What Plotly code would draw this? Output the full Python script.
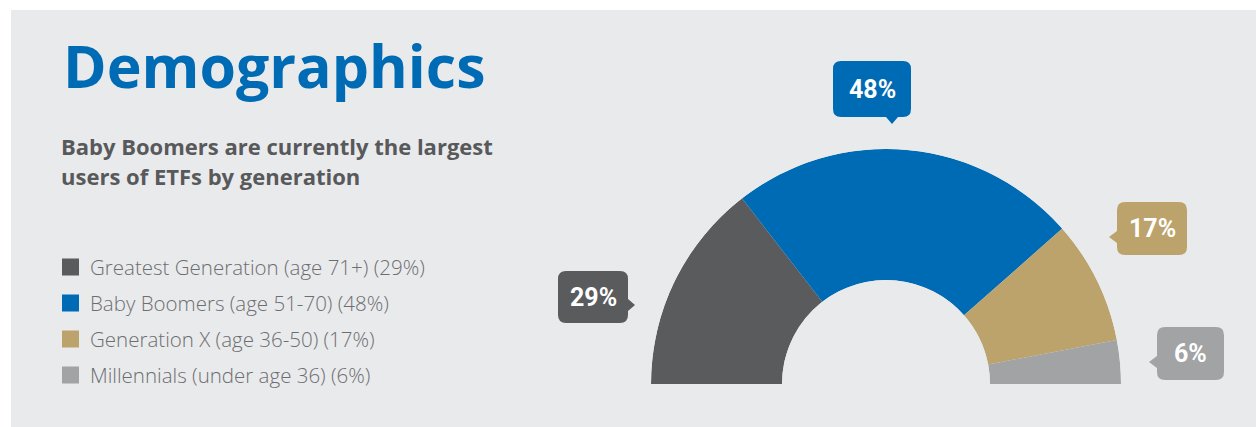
import plotly.graph_objects as go

# Share of ETF users by generation (percent)
generations = [
    "Greatest Generation (age 71+)",
    "Baby Boomers (age 51-70)",
    "Generation X (age 36-50)",
    "Millennials (under age 36)",
]
shares = [29, 48, 17, 6]
colors = ["#5a5b5d", "#006bb5", "#bca36c", "#a2a3a5"]

TITLE = "Demographics"
SUBTITLE = ["Baby Boomers are currently the largest", "users of ETFs by generation"]

W, H = 1256, 427
PANEL = "#e9eaec"

# callout box geometry in pixels: (x0, y0, x1, y1, pointer side, tip x, tip y)
callout_boxes = [
    (558, 271, 628, 323, "right", 635, 305),
    (833, 61, 911, 117, "bottom", 892, 124),
    (1117, 202, 1187, 255, "left", 1109, 237),
    (1157, 327, 1224, 380, "left", 1149, 362),
]


def px(x):
    return x / W


def py(y):
    return 1 - y / H


def callout_path(x0, y0, x1, y1, side, tx, ty, r=8, hw=6):
    pts = []
    pts.append(("M", (x0 + r, y0)))
    pts.append(("L", (x1 - r, y0)))
    pts.append(("Q", (x1, y0), (x1, y0 + r)))
    if side == "right":
        pts += [("L", (x1, ty - hw)), ("L", (tx, ty)), ("L", (x1, ty + hw))]
    pts.append(("L", (x1, y1 - r)))
    pts.append(("Q", (x1, y1), (x1 - r, y1)))
    if side == "bottom":
        pts += [("L", (tx + hw, y1)), ("L", (tx, ty)), ("L", (tx - hw, y1))]
    pts.append(("L", (x0 + r, y1)))
    pts.append(("Q", (x0, y1), (x0, y1 - r)))
    if side == "left":
        pts += [("L", (x0, ty + hw)), ("L", (tx, ty)), ("L", (x0, ty - hw))]
    pts.append(("L", (x0, y0 + r)))
    pts.append(("Q", (x0, y0), (x0 + r, y0)))
    out = []
    for p in pts:
        cmd, coords = p[0], p[1:]
        out.append(cmd + " ".join(f"{px(a):.6f},{py(b):.6f}" for a, b in coords))
    return " ".join(out) + " Z"


# half donut: shares laid out over 180 degrees, left to right
total = sum(shares)
deg = [s / total * 180 for s in shares]
mids, acc = [], 0.0
for d in deg:
    mids.append(acc + d / 2)
    acc += d

fig = go.Figure()
fig.add_trace(
    go.Barpolar(
        r=[1] * len(shares),
        theta=mids,
        width=deg,
        marker=dict(color=colors, line=dict(width=0)),
        showlegend=False,
        hoverinfo="skip",
    )
)

shapes = [
    dict(type="rect", xref="paper", yref="paper", x0=px(11), x1=1, y0=0, y1=py(10),
         fillcolor=PANEL, line=dict(width=0), layer="below")
]
annotations = []

annotations.append(dict(
    text=f"<b>{TITLE}</b>", x=px(61), y=py(65), xref="paper", yref="paper",
    xanchor="left", yanchor="middle", showarrow=False,
    font=dict(family="Open Sans", size=59, color="#006bb5"),
))
for i, line in enumerate(SUBTITLE):
    annotations.append(dict(
        text=f"<b>{line}</b>", x=px(59), y=py(146 + i * 30), xref="paper", yref="paper",
        xanchor="left", yanchor="middle", showarrow=False,
        font=dict(family="Open Sans", size=22, color="#58595b"),
    ))

# legend rows
for i, (name, val, col) in enumerate(zip(generations, shares, colors)):
    cy = 267 + i * 36
    shapes.append(dict(type="rect", xref="paper", yref="paper",
                       x0=px(62), x1=px(79), y0=py(cy + 8.5), y1=py(cy - 8.5),
                       fillcolor=col, line=dict(width=0)))
    annotations.append(dict(
        text=f"{name} ({val}%)", x=px(88), y=py(cy), xref="paper", yref="paper",
        xanchor="left", yanchor="middle", showarrow=False,
        font=dict(family="Open Sans", size=20.5, color="#6d6e71", weight=300),
    ))

# value callouts
for val, col, (x0, y0, x1, y1, side, tx, ty) in zip(shares, colors, callout_boxes):
    shapes.append(dict(type="path", xref="paper", yref="paper",
                       path=callout_path(x0, y0, x1, y1, side, tx, ty),
                       fillcolor=col, line=dict(width=0)))
    annotations.append(dict(
        text=f"<b>{val}%</b>", x=px((x0 + x1) / 2), y=py((y0 + y1) / 2),
        xref="paper", yref="paper", xanchor="center", yanchor="middle",
        showarrow=False, font=dict(family="Roboto", size=25, color="white"),
    ))

fig.update_layout(
    width=W, height=H,
    margin=dict(l=0, r=0, t=0, b=0),
    paper_bgcolor="white",
    plot_bgcolor="white",
    polar=dict(
        domain=dict(x=[px(651), px(1121)], y=[py(384), py(149)]),
        sector=[0, 180],
        hole=104 / 235,
        bgcolor="rgba(0,0,0,0)",
        radialaxis=dict(visible=False, range=[0, 1]),
        angularaxis=dict(visible=False, rotation=180, direction="clockwise"),
    ),
    shapes=shapes,
    annotations=annotations,
)

fig.write_html("out.html")
